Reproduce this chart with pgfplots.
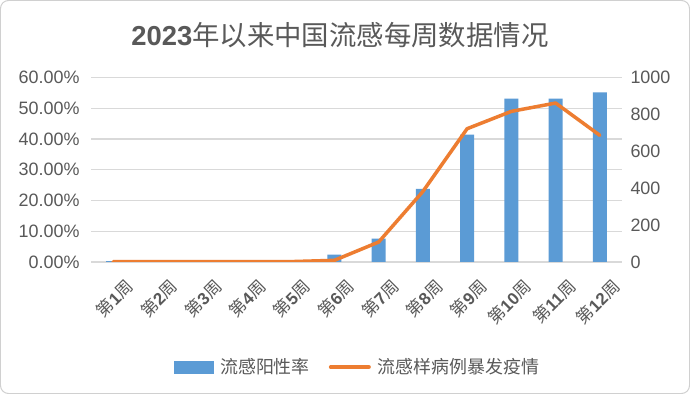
\documentclass[border=0pt]{standalone}
\usepackage{fontspec}
\setmainfont{Liberation Sans}
\newfontfamily\cjk{Noto Sans CJK SC}
\usepackage{pgfplots}
\pgfplotsset{compat=1.18}
\definecolor{barblue}{HTML}{5B9BD5}
\definecolor{lineor}{HTML}{ED7D31}
\definecolor{txt}{HTML}{595959}
\definecolor{titlecol}{HTML}{595959}
\definecolor{gridc}{HTML}{D9D9D9}
\definecolor{framec}{HTML}{D0D0D0}
\newcommand{\wk}[1]{{\cjk 第}{\bfseries #1}{\cjk 周}}

\pgfplotstableread{
x bar line
1 0.3 2
2 0 2
3 0 2
4 0 2
5 0 2
6 2.4 9
7 7.6 108
8 23.8 382
9 41.4 722
10 53.1 816
11 53.1 861
12 55.1 686
}\datatable

\begin{document}
\begin{tikzpicture}
\draw[framec, line width=1bp, rounded corners=8bp, fill=white] (0.5bp,0.5bp) rectangle (689.5bp,393.5bp);
\node[font=\fontsize{27.5}{32}\selectfont, text=titlecol] at (340bp,359bp) {{\bfseries 2023}{\cjk 年以来中国流感每周数据情况}};

\begin{axis}[
  at={(91bp,132bp)}, anchor=south west,
  width=531bp, height=184.6bp, scale only axis,
  xmin=0.5, xmax=12.5, ymin=0, ymax=60,
  axis y line*=left, axis x line*=bottom,
  axis line style={draw=none},
  major tick length=0,
  ytick={0,10,...,60},
  ymajorgrids, grid style={gridc, line width=1.2bp},
  xtick={1,...,12},
  xticklabels={\wk{1},\wk{2},\wk{3},\wk{4},\wk{5},\wk{6},\wk{7},\wk{8},\wk{9},\wk{10},\wk{11},\wk{12}},
  xticklabel style={font=\fontsize{17}{20}\selectfont, text=txt, rotate=45, anchor=east, inner sep=0pt, xshift=-3bp, yshift=-27bp},
  yticklabel={\pgfmathprintnumber[fixed,fixed zerofill,precision=2]{\tick}\%},
  yticklabel style={font=\fontsize{18}{20}\selectfont, text=txt, xshift=-8bp},
  /pgf/number format/assume math mode=true,
]
\addplot[ybar, bar width=14bp, fill=barblue, draw=none] table[x=x, y=bar] {\datatable};
\end{axis}

\begin{axis}[
  at={(91bp,132bp)}, anchor=south west,
  width=531bp, height=184.6bp, scale only axis,
  xmin=0.5, xmax=12.5, ymin=0, ymax=1000,
  axis y line*=right, axis x line=none,
  axis line style={draw=none},
  major tick length=0,
  ytick={0,200,...,1000},
  yticklabel style={font=\fontsize{18}{20}\selectfont, text=txt, xshift=5bp},
  /pgf/number format/assume math mode=true,
  /pgf/number format/1000 sep={},
  legend style={at={(0.5,-0.569)}, anchor=center, legend columns=2, draw=none, fill=none,
    font=\cjk\fontsize{18}{20}\selectfont, text=txt, inner sep=0pt,
    nodes={inner sep=0pt, anchor=west},
    /tikz/every odd column/.append style={column sep=7bp},
    /tikz/every even column/.append style={column sep=19bp}},
]
\addlegendimage{legend image code/.code={\fill[barblue] (0bp,-6bp) rectangle (39bp,6bp);}}
\addlegendentry{流感阳性率}
\addplot[lineor, line width=3.5bp, line join=round, line cap=round,
  legend image code/.code={\draw[lineor, line width=4bp, line cap=round] (2bp,0bp) -- (40bp,0bp);}]
  table[x=x, y=line] {\datatable};
\addlegendentry{流感样病例暴发疫情}
\end{axis}
\end{tikzpicture}
\end{document}
